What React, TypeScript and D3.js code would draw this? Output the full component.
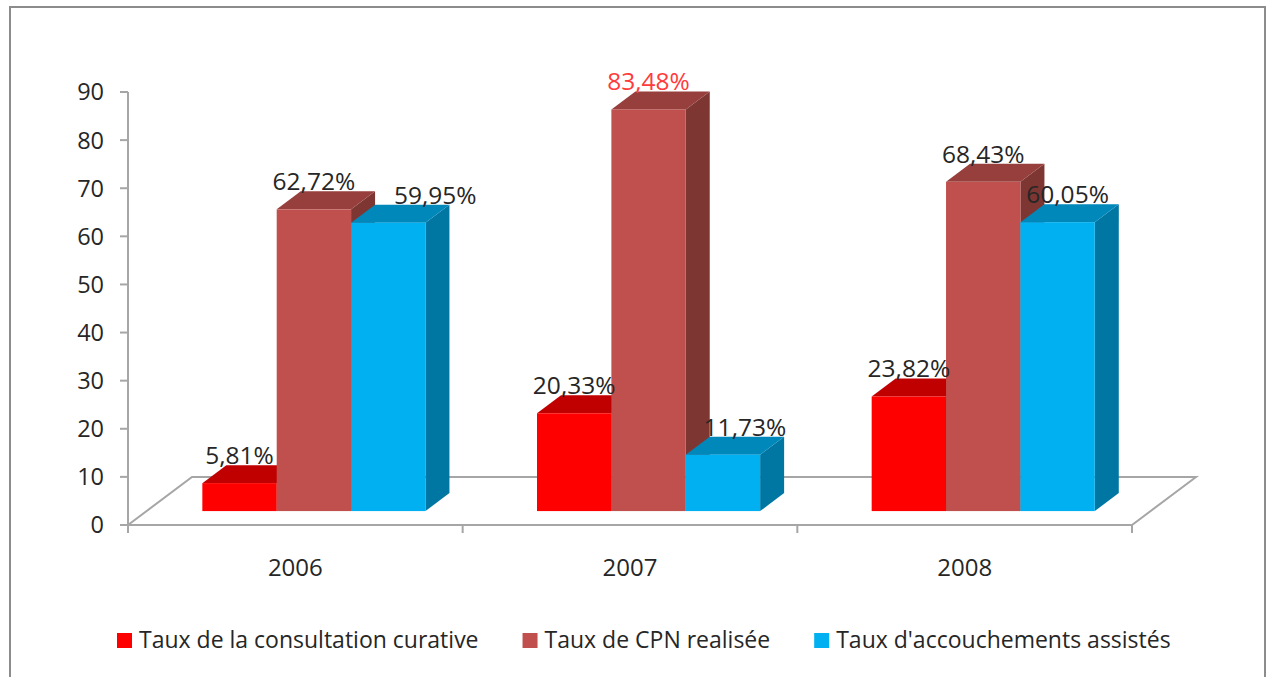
import React, { useRef, useEffect } from 'react';
import * as d3 from 'd3';

// categories and series
const years = ['2006', '2007', '2008'];
const seriesNames = [
    'Taux de la consultation curative',
    'Taux de CPN realisée',
    "Taux d'accouchements assistés",
];
const curative = [5.81, 20.33, 23.82];
const cpn = [62.72, 83.48, 68.43];
const accouchements = [59.95, 11.73, 60.05];
const yTicks = [0, 10, 20, 30, 40, 50, 60, 70, 80, 90];

// colours per series: front face, top face, right side
const frontColors = ['#FF0000', '#C0504D', '#00B0F0'];
const topColors = ['#C00000', '#963F3D', '#0088BB'];
const sideColors = ['#A00000', '#7E3633', '#0077A3'];

const W = 1266;
const H = 677;
const FONT = "'Open Sans', sans-serif";

const App = () => {
    const ref = useRef<SVGSVGElement>(null);

    useEffect(() => {
        document.body.style.margin = '0';
        const svg = d3.select(ref.current);
        svg.selectAll('*').remove();

        const values = [curative, cpn, accouchements];

        // plot geometry
        const left = 128, right = 1132, bottom = 525, top = 92;
        const depthX = 64, depthY = 48;
        const fFront = 0.29, fBack = 0.665;

        const y = d3.scaleLinear().domain([0, 90]).range([bottom, top]);
        const x = d3.scaleBand().domain(years).range([left, right])
            .paddingInner(1 / 3).paddingOuter(1 / 6);
        const xs = d3.scaleBand().domain(d3.range(3).map(String)).range([0, x.bandwidth()]);
        const cat = d3.scaleBand().domain(years).range([left, right]);

        // outer frame
        svg.append('rect')
            .attr('x', 10).attr('y', 7)
            .attr('width', 1255).attr('height', 700)
            .attr('fill', 'white')
            .attr('stroke', '#8C8C8C')
            .attr('stroke-width', 2);

        const gray = '#A6A6A6';

        // floor
        svg.append('path')
            .attr('d', d3.line()([
                [left, bottom], [right, bottom],
                [right + depthX, bottom - depthY], [left + depthX, bottom - depthY], [left, bottom],
            ]))
            .attr('fill', 'none')
            .attr('stroke', gray)
            .attr('stroke-width', 2);

        // y axis
        svg.append('line')
            .attr('x1', left).attr('x2', left)
            .attr('y1', top).attr('y2', bottom + 8)
            .attr('stroke', gray).attr('stroke-width', 2);
        yTicks.forEach(t => {
            svg.append('line')
                .attr('x1', left - 8).attr('x2', left)
                .attr('y1', y(t)).attr('y2', y(t))
                .attr('stroke', gray).attr('stroke-width', 2);
            svg.append('text')
                .attr('x', left - 24).attr('y', y(t))
                .attr('dy', '0.36em')
                .attr('text-anchor', 'end')
                .attr('font-family', FONT).attr('font-size', 23.5)
                .attr('fill', '#262626')
                .text(t);
        });

        // x axis ticks and labels
        [left, ...years.map(yr => (cat(yr) as number) + cat.bandwidth())].forEach(px => {
            svg.append('line')
                .attr('x1', px).attr('x2', px)
                .attr('y1', bottom).attr('y2', bottom + 8)
                .attr('stroke', gray).attr('stroke-width', 2);
        });
        years.forEach(yr => {
            svg.append('text')
                .attr('x', (cat(yr) as number) + cat.bandwidth() / 2)
                .attr('y', 576)
                .attr('text-anchor', 'middle')
                .attr('font-family', FONT).attr('font-size', 24)
                .attr('fill', '#262626')
                .text(yr);
        });

        // 3d bars, drawn left to right so later fronts hide earlier sides
        const ox = fFront * depthX, oy = fFront * depthY;
        const bx = (fBack - fFront) * depthX, by = (fBack - fFront) * depthY;
        const bw = xs.bandwidth();
        const g = svg.append('g');
        const labels: { x: number, y: number, text: string, color: string }[] = [];
        const nudges = [[0, 0, 47], [0, 0, 22], [0, 0, 10]];

        years.forEach((yr, i) => {
            values.forEach((series, s) => {
                const v = series[i];
                const x0 = (x(yr) as number) + (xs(String(s)) as number) + ox;
                const x1 = x0 + bw;
                const yb = y(0) - oy;
                const yt = y(v) - oy;
                g.append('path')
                    .attr('d', d3.line()([[x1, yb], [x1 + bx, yb - by], [x1 + bx, yt - by], [x1, yt]]))
                    .attr('fill', sideColors[s]);
                g.append('path')
                    .attr('d', d3.line()([[x0, yt], [x1, yt], [x1 + bx, yt - by], [x0 + bx, yt - by]]))
                    .attr('fill', topColors[s]);
                g.append('rect')
                    .attr('x', x0).attr('y', yt)
                    .attr('width', bw).attr('height', yb - yt)
                    .attr('fill', frontColors[s]);
                labels.push({
                    x: x0 + bw / 2 + nudges[i][s],
                    y: yt - by - 1,
                    text: v.toFixed(2).replace('.', ',') + '%',
                    color: (i === 1 && s === 1) ? '#FF3B3B' : '#262626',
                });
            });
        });

        labels.forEach(l => {
            svg.append('text')
                .attr('x', l.x).attr('y', l.y)
                .attr('text-anchor', 'middle')
                .attr('font-family', FONT).attr('font-size', 24.5)
                .attr('fill', l.color)
                .text(l.text);
        });

        // legend under the plot
        const legend = svg.append('g').attr('transform', 'translate(117,648)');
        let cx = 0;
        seriesNames.forEach((name, s) => {
            const item = legend.append('g').attr('transform', `translate(${cx},0)`);
            item.append('rect')
                .attr('x', 0).attr('y', -15)
                .attr('width', 15).attr('height', 15)
                .attr('fill', frontColors[s]);
            const t = item.append('text')
                .attr('x', 22).attr('y', 0)
                .attr('font-family', FONT).attr('font-size', 23)
                .attr('fill', '#262626')
                .text(name);
            const len = (t.node() as SVGTextElement).getComputedTextLength();
            cx += 22 + len + 44;
        });
    }, []);

    return (
        <div className="chart">
            <svg ref={ref} width={W} height={H} style={{ display: 'block' }}></svg>
        </div>
    );
};

export default App;
